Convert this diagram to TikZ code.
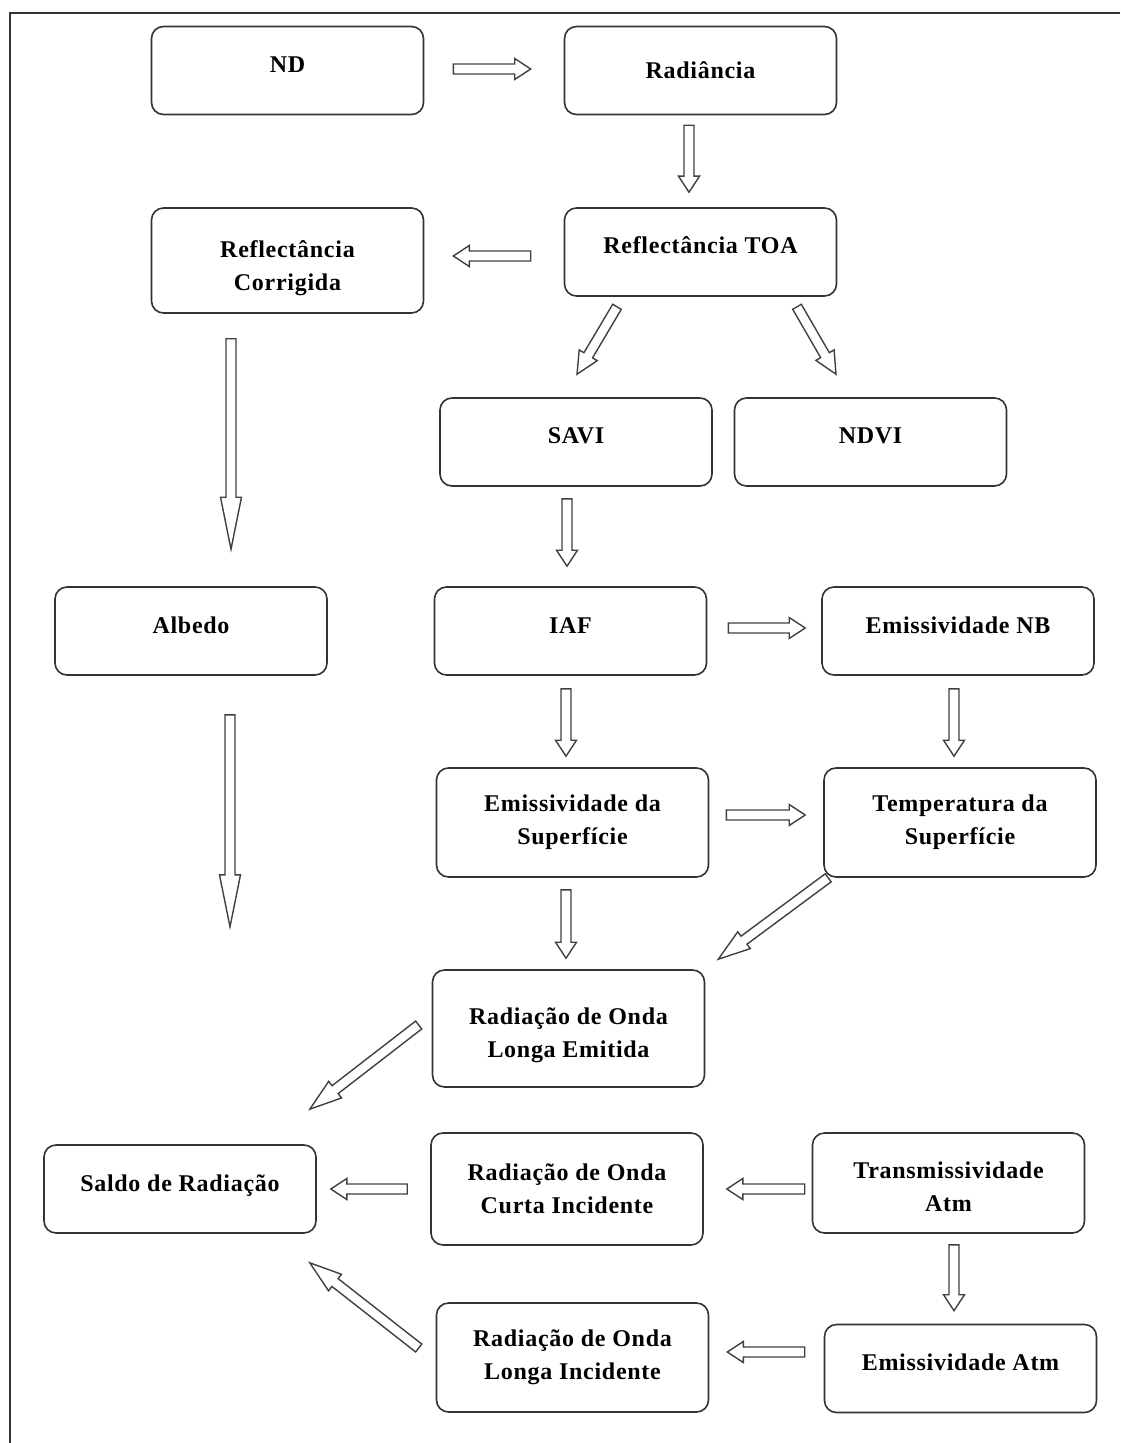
\documentclass[tikz,border=0pt]{standalone}
\usepackage{fontspec}
\setmainfont{Liberation Serif}[LetterSpace=3]
\usetikzlibrary{calc}

% hollow block arrow from #1 to #2, head length #3
\newcommand{\hollowarrow}[3]{%
  \path #1 coordinate (ha-s) #2 coordinate (ha-e);
  \coordinate (ha-b) at ($(ha-e)!#3!(ha-s)$);
  \draw[arrowedge] ($(ha-s)!2.5pt!90:(ha-e)$) -- ($(ha-b)!2.5pt!90:(ha-e)$)
    -- ($(ha-b)!5.25pt!90:(ha-e)$) -- (ha-e) -- ($(ha-b)!5.25pt!-90:(ha-e)$)
    -- ($(ha-b)!2.5pt!-90:(ha-e)$) -- ($(ha-s)!2.5pt!-90:(ha-e)$) -- cycle;
}

\begin{document}
\begin{tikzpicture}[x=0.5pt, y=-0.5pt,
    box/.style={draw=black!80, line width=0.8pt, rounded corners=6pt,
      minimum width=136pt, minimum height=44pt, align=center,
      font=\fontsize{12}{16.5}\selectfont\bfseries},
    oneline/.style={text height=9pt, text depth=7pt},
    arrowedge/.style={draw=black!75, line width=0.7pt, line join=miter, fill=white},
    frameline/.style={draw=black!80, line width=0.8pt}]
  \useasboundingbox (0,0) rectangle (1120,1443);
  \draw[frameline] (1120,13) -- (10,13) -- (10,1443);

  % boxes
  \node[box, oneline] (nd) at (287.5,70.5) {ND};
  \node[box, oneline, text depth=1pt] (rad) at (700.5,70.5) {Radiância};
  \node[box, minimum height=52.5pt] (cor) at (287.5,260.5) {\rule{0pt}{16pt}Reflectância\\Corrigida};
  \node[box, oneline] (toa) at (700.5,252) {Reflectância TOA};
  \node[box, oneline] (savi) at (576,442) {SAVI};
  \node[box, oneline] (ndvi) at (870.5,442) {NDVI};
  \node[box, oneline] (alb) at (191,631) {Albedo};
  \node[box, oneline] (iaf) at (570.5,631) {IAF};
  \node[box, oneline] (enb) at (958,631) {Emissividade NB};
  \node[box, minimum height=54.5pt] (esup) at (572.5,822.5) {Emissividade da\\Superfície};
  \node[box, minimum height=54.5pt] (tsup) at (960,822.5) {Temperatura da\\Superfície};
  \node[box, minimum height=58.5pt] (role) at (568.5,1028.5) {\rule{0pt}{15.5pt}Radiação de Onda\\Longa Emitida};
  \node[box, oneline] (saldo) at (180,1189) {Saldo de Radiação};
  \node[box, minimum height=56pt] (roci) at (567,1189) {Radiação de Onda\\Curta Incidente};
  \node[box, minimum height=50pt] (trans) at (948.5,1183) {\rule{0pt}{12.5pt}Transmissividade\\Atm};
  \node[box, minimum height=54.5pt] (roli) at (572.5,1357.5) {Radiação de Onda\\Longa Incidente};
  \node[box, oneline] (eatm) at (960.5,1368.5) {Emissividade Atm};
  \coordinate (albend) at ($(alb.south)+(39,251)$);

  % arrows
  \hollowarrow{($(nd.east)+(29,-1.5)$)}{($(rad.west)+(-33,-1.5)$)}{8pt}
  \hollowarrow{($(rad.south)+(-11.5,10)$)}{($(toa.north)+(-11.5,-15)$)}{8pt}
  \hollowarrow{($(toa.west)+(-33,4)$)}{($(cor.east)+(29,-4.5)$)}{8pt}
  \hollowarrow{($(toa.south)+(-83.5,10)$)}{($(savi.north)+(1,-23)$)}{11pt}
  \hollowarrow{($(toa.south)+(96.5,10)$)}{($(ndvi.north)+(-34.5,-23)$)}{11pt}
  \hollowarrow{($(cor.south)+(-56.5,25)$)}{($(alb.north)+(40,-37)$)}{26pt}
  \hollowarrow{($(savi.south)+(-9,12)$)}{($(iaf.north)+(-3.5,-20)$)}{8pt}
  \hollowarrow{($(iaf.east)+(21,-3)$)}{($(enb.west)+(-16,-3)$)}{8pt}
  \hollowarrow{($(alb.south)+(39,39)$)}{(albend)}{26pt}
  \hollowarrow{($(iaf.south)+(-4.5,13)$)}{($(esup.north)+(-6.5,-11)$)}{8pt}
  \hollowarrow{($(enb.south)+(-4,13)$)}{($(tsup.north)+(-6,-11)$)}{8pt}
  \hollowarrow{($(esup.east)+(17,-7.5)$)}{($(tsup.west)+(-18,-7.5)$)}{8pt}
  \hollowarrow{($(esup.south)+(-6.5,12)$)}{($(role.north)+(-2.5,-11)$)}{8pt}
  \hollowarrow{($(tsup.south west)+(5,0)$)}{($(role.north east)+(13,-10)$)}{16pt}
  \hollowarrow{($(role.west)+(-13,-3.5)$)}{($(saldo.north east)+(-7,-35)$)}{16pt}
  \hollowarrow{($(roci.west)+(-23,0)$)}{($(saldo.east)+(14,0)$)}{8pt}
  \hollowarrow{($(trans.west)+(-7,6)$)}{($(roci.east)+(23,0)$)}{8pt}
  \hollowarrow{($(trans.south)+(5.5,11)$)}{($(eatm.north)+(-6.5,-13)$)}{8pt}
  \hollowarrow{($(eatm.west)+(-19,-16.5)$)}{($(roli.east)+(18,-5.5)$)}{8pt}
  \hollowarrow{($(roli.west)+(-17,-9.5)$)}{($(saldo.south east)+(-7,29)$)}{16pt}
\end{tikzpicture}
\end{document}
